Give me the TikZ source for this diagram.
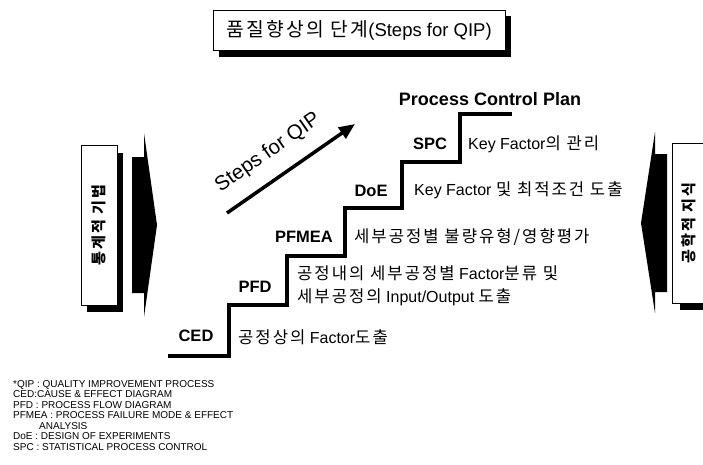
\documentclass[tikz,border=0pt]{standalone}
\usepackage{fontspec}
\setmainfont{Liberation Sans}
\newfontfamily\kr[Scale=1.04,LetterSpace=12]{Noto Sans CJK KR}
\usetikzlibrary{arrows.meta}

\tikzset{
  steplabel/.style={font=\fontsize{16.5}{18}\selectfont\bfseries, inner sep=0pt},
  stepnote/.style={font=\fontsize{16}{23.5}\selectfont, anchor=west, inner sep=0pt, align=left},
  sidebox/.style={draw, line width=1pt, fill=white, minimum width=36pt, minimum height=160pt,
    inner sep=0pt},
  sidetext/.style={rotate=90, font=\fontsize{14.5}{14.5}\selectfont\kr\bfseries},
  stairline/.style={line width=4pt, line join=miter}
}

\begin{document}
\begin{tikzpicture}[x=1pt,y=-1pt]
\clip (0,0) rectangle (703,464);

% title box with its shadow
\fill (219,16) rectangle (511,57);
\node[draw, fill=white, line width=1pt, minimum width=292pt, minimum height=40pt,
  font=\fontsize{18.5}{19}\selectfont] (title) at (359,30) {{\kr 품질향상의 단계}(Steps for QIP)};

% left side: box and arrow
\fill (87,153) rectangle (123,312);
\node[sidebox] (leftbox) at (99,225) {};
\node[sidetext] (lefttext) at (leftbox.center) {통계적 기법};
\fill (132,157) -- (144,157) -- (144,133) -- (157,225) -- (144,317) -- (144,293) -- (132,293) -- cycle;

% right side: box and arrow
\fill (680,151) rectangle (714,310);
\node[sidebox, minimum width=34pt] (rightbox) at (689,223) {};
\node[sidetext] (righttext) at (rightbox.center) {공학적 지식};
\fill (667,154) -- (655,154) -- (655,132) -- (641,223) -- (655,313) -- (655,292) -- (667,292) -- cycle;

% the stairs
\draw[stairline] (168,356) -- (229,356) -- (229,305) -- (287,305) -- (287,256)
  -- (345,256) -- (345,208) -- (402,208) -- (402,162) -- (460,162) -- (460,114) -- (512,114);

% steps arrow
\coordinate (qiptail) at (227,213);
\coordinate (qiphead) at (355,124);
\draw[line width=3.5pt, -{Triangle[length=16pt,width=13pt]}] (qiptail) -- (qiphead);
\node[rotate=35, font=\fontsize{20.5}{20.5}\selectfont] (qiptext) at (268,153) {Steps for QIP};

% step labels
\node[steplabel] (ced) at (196,336) {CED};
\node[steplabel] (pfd) at (255,287) {PFD};
\node[steplabel] (pfmea) at (304,237) {PFMEA};
\node[steplabel] (doe) at (371,191) {DoE};
\node[steplabel] (spc) at (430,144) {SPC};
\node[steplabel, font=\fontsize{18}{18}\selectfont\bfseries] (pcp) at (490,99) {Process Control Plan};

% what each step does
\node[stepnote] (cednote) at (238,337) {{\kr 공정상의} Factor{\kr 도출}};
\node[stepnote] (pfdnote) at (297,286) {{\kr 공정내의 세부공정별} Factor{\kr 분류 및}\\{\kr 세부공정의} Input/Output {\kr 도출}};
\node[stepnote] (pfmeanote) at (354,237) {\kr 세부공정별 불량유형/영향평가};
\node[stepnote] (doenote) at (414,190) {Key Factor {\kr 및 최적조건 도출}};
\node[stepnote] (spcnote) at (468,144) {Key Factor{\kr 의 관리}};

% abbreviations
\node[anchor=north west, inner sep=0pt, align=left, font=\fontsize{10}{10.5}\selectfont] (notes) at (13,380)
  {*QIP : QUALITY IMPROVEMENT PROCESS\\
   CED:CAUSE \& EFFECT DIAGRAM\\
   PFD : PROCESS FLOW DIAGRAM\\
   PFMEA : PROCESS FAILURE MODE \& EFFECT\\
   \hspace*{26pt}ANALYSIS\\
   DoE : DESIGN OF EXPERIMENTS\\
   SPC : STATISTICAL PROCESS CONTROL};
\end{tikzpicture}
\end{document}
